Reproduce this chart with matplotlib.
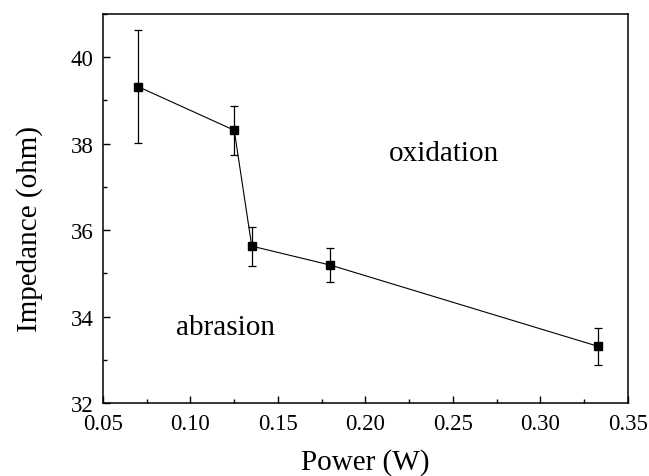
import matplotlib
matplotlib.use("Agg")
import matplotlib.pyplot as plt
from matplotlib.ticker import MultipleLocator, FormatStrFormatter

# data
power = [0.07, 0.125, 0.135, 0.18, 0.333]
impedance = [39.32, 38.31, 35.63, 35.19, 33.31]
err = [1.30, 0.57, 0.45, 0.40, 0.42]

plt.rcParams["font.family"] = ["Liberation Serif", "DejaVu Serif"]

fig = plt.figure(figsize=(6.49, 4.77), dpi=100)
ax = fig.add_axes([0.1587, 0.153, 0.8089, 0.8156])

ax.errorbar(power, impedance, yerr=err, color="black", linewidth=0.8,
            marker="s", markersize=5.5, elinewidth=0.9, capsize=3.2,
            capthick=0.9)

ax.text(0.245, 37.78, "oxidation", fontsize=21, ha="center", va="center")
ax.text(0.12, 33.75, "abrasion", fontsize=21, ha="center", va="center")

ax.set_xlim(0.05, 0.35)
ax.set_ylim(32, 41)
ax.xaxis.set_major_locator(MultipleLocator(0.05))
ax.xaxis.set_minor_locator(MultipleLocator(0.025))
ax.xaxis.set_major_formatter(FormatStrFormatter("%.2f"))
ax.yaxis.set_major_locator(MultipleLocator(2))
ax.yaxis.set_minor_locator(MultipleLocator(1))

ax.tick_params(which="both", direction="in", top=False, right=False,
               labelsize=16.5, width=1)
ax.tick_params(which="major", length=5)
ax.tick_params(which="minor", length=3)
ax.tick_params(axis="x", which="major", pad=7)
ax.tick_params(axis="y", which="major", pad=7)
for s in ax.spines.values():
    s.set_linewidth(1.1)

ax.set_xlabel("Power (W)", fontsize=21, labelpad=10)
ax.set_ylabel("Impedance (ohm)", fontsize=21)
ax.yaxis.set_label_coords(-0.114, 0.45)

fig.savefig("out.png", dpi=100)
